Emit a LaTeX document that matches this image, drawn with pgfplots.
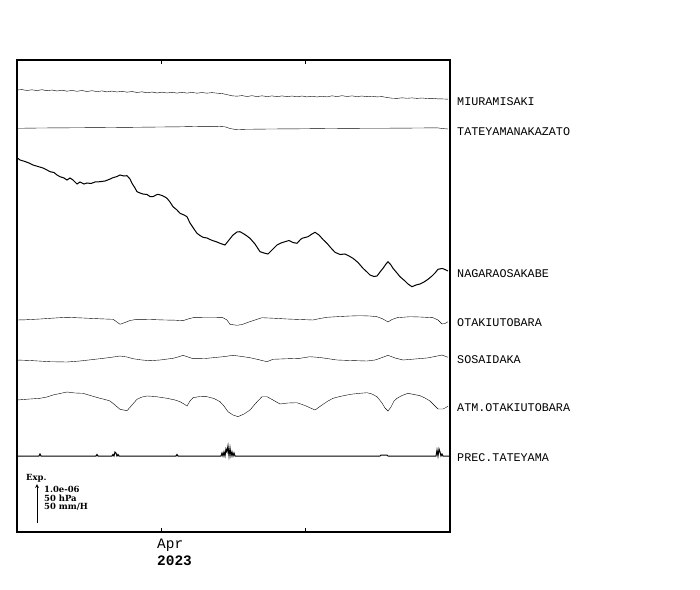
\documentclass[border=0pt]{standalone}
\usepackage{pgfplots}
\pgfplotsset{compat=1.18}
\usepackage{fontspec}
\setmainfont{DejaVu Serif}
\newfontfamily\mono{Liberation Mono}
\begin{document}
\begin{tikzpicture}
\begin{axis}[
  x=1bp, y=1bp, y dir=reverse,
  xmin=17, xmax=450, ymin=60, ymax=532,
  axis line style={line width=1.6bp},
  xtick={161,305}, xticklabels={}, ytick=\empty,
  tick align=inside, xtick pos=both,
  major tick length=4bp, tick style={line width=1bp, black},
  clip=false,
  cycle list={{black, no markers, line width=1bp, line join=round}},
]
\path (axis cs:0,0) rectangle (axis cs:700,590);
% MIURAMISAKI
\addplot coordinates {(17,90)(22,89.6)(27,90.5)(32,89.8)(37,90.6)(42,89.7)(47,90.7)(52,90)(57,91)(62,90.2)(67,91.2)(72,90.4)(77,91.3)(82,90.5)(87,91.5)(92,90.7)(97,91.6)(102,90.9)(107,91.9)(112,91.1)(117,92)(122,91.3)(127,92.2)(132,91.5)(137,92.5)(142,91.8)(147,92.8)(152,92)(157,93)(162,92.2)(167,93)(172,92.3)(177,93.1)(182,92.3)(187,93.1)(192,92.4)(197,93.2)(202,92.5)(207,93.2)(212,92.6)(217,93.2)(222,93.5)(227,94.6)(232,95.8)(237,96.2)(242,95.6)(247,96.5)(252,95.7)(257,96.6)(262,95.8)(267,96.6)(272,95.9)(277,96.7)(282,95.9)(287,96.7)(292,96)(297,96.8)(302,96)(307,96.9)(312,96.2)(317,97)(322,96.2)(327,96.9)(332,95.8)(337,96.6)(342,95.7)(347,96.5)(352,95.9)(357,96.6)(362,96)(367,96.7)(372,96.2)(377,96.9)(382,96.6)(387,97.5)(392,98.2)(397,98.4)(402,97.8)(407,98.3)(412,97.9)(417,98.4)(422,98)(427,98.5)(432,98.3)(437,98.8)(442,98.9)(448,99.2)};
% TATEYAMANAKAZATO
\addplot coordinates {(17,128.3)(40,128)(70,127.8)(100,127.6)(133,127.3)(160,127)(180,126.8)(200,126.4)(215,126.3)(225,126.8)(230,128.5)(236,129.6)(245,129.3)(270,129)(300,128.8)(330,128.5)(360,128.3)(390,128.2)(420,128)(437,127.8)(443,128.6)(448,129)};
% NAGARAOSAKABE
\addplot coordinates {(17,157.7)(20,160)(25,161.5)(29,163)(33,165)(38,166.5)(43,168)(47,170)(50,171.7)(54,172.5)(57,175)(60,176.7)(64,178)(67,180)(70,178)(73,180)(77,184)(80,182)(84,184)(87,183)(91,183.5)(95,182)(100,181.7)(105,181)(109,179.5)(113,177.7)(117,176.5)(120,175)(124,176)(127,175.7)(130,179)(132,183.3)(135,188)(137,191.7)(140,193)(143,194)(147,194.5)(150,196.5)(153,196.7)(156,195)(158,194.3)(162,195.5)(165,197)(167,198.3)(170,202)(173,206.7)(177,210)(180,213.3)(184,215)(187,216.7)(190,223)(194,229)(197,233.3)(200,235.5)(203,237.3)(207,238)(210,239.5)(213,240.7)(217,242)(220,243.3)(225,245)(229,240)(233,235)(237,232)(240,231.7)(244,234)(247,236)(250,238.3)(255,244)(260,251.7)(264,253)(268,254)(272,250)(277,245)(281,243)(285,241.7)(289,240.5)(293,242.5)(297,243.3)(300,240)(302,238.3)(305,237.5)(308,236.7)(312,234)(315,232.3)(319,235)(323,239.5)(327,243.3)(331,248)(335,252.3)(340,254.5)(345,254)(349,256)(353,258.3)(358,262.5)(363,268.3)(367,272)(370,275)(374,276.5)(377,276)(380,272)(383,268.3)(386,264)(388,261.7)(391,265)(393,268.3)(397,273)(400,276.7)(405,281)(408,284)(412,286.7)(416,285)(420,284)(424,282)(428,279.3)(432,276)(435,273)(438,269.3)(441,268.7)(443,268.7)(446,270)(448,271)};
% OTAKIUTOBARA
\addplot coordinates {(17,320)(25,319.8)(40,319)(55,318)(67,317.3)(83,318)(100,318.8)(113,319.3)(117,322)(120,324.3)(125,322.5)(130,320.5)(137,319.3)(150,319.5)(165,320)(175,320.2)(183,320.7)(188,319)(193,317.7)(205,317.5)(215,317.5)(223,317.7)(227,320)(230,324.3)(237,325.3)(242,324.5)(247,322.7)(255,320)(262,317.7)(275,318.3)(287,319)(300,319.5)(313,320)(320,318.5)(327,317.3)(340,316.5)(350,316)(360,315.7)(370,316)(377,316.7)(383,319)(388,322)(392,319.5)(397,317.7)(410,316.7)(420,317)(433,317.7)(438,320)(442,324)(445,323.5)(448,321.7)};
% SOSAIDAKA
\addplot coordinates {(17,360)(30,360.5)(50,361.7)(67,362)(80,361)(100,358.7)(110,357.5)(120,356)(127,357)(133,358.7)(142,360)(150,360.7)(160,360)(173,358.3)(178,357)(183,355.3)(188,357)(193,358.7)(205,358.5)(217,357.3)(225,356.5)(233,355.3)(242,356.5)(250,357.7)(258,359.5)(267,361.7)(273,359.3)(285,358.8)(300,358.3)(310,356.7)(320,357.5)(337,360)(350,360.5)(367,361)(375,360)(380,358.3)(388,355.3)(395,358)(403,360)(415,359)(427,358)(435,356.5)(442,355)(448,357.3)};
% ATM.OTAKIUTOBARA
\addplot coordinates {(17,400)(30,399)(40,398.3)(47,397)(53,395)(60,393.5)(67,392)(75,393)(83,393.3)(92,396)(100,398.3)(105,399.5)(110,401)(115,405)(120,409.3)(127,410.7)(132,405)(137,399.3)(142,397)(147,396)(155,396.5)(167,398.3)(175,400)(180,401.7)(184,404)(187,406)(190,401)(193,397.7)(200,396.5)(207,396.7)(214,398.5)(220,401.7)(224,406)(228,411.7)(233,415)(238,416.7)(244,414)(250,410)(256,403)(262,396.7)(267,396.7)(273,400)(280,404)(288,403)(297,402.7)(305,405.5)(315,410)(322,405)(328,401)(333,398.3)(340,396.5)(347,395)(353,394)(360,393.3)(367,392.7)(372,394)(377,396.7)(382,403)(385,408)(388,411)(391,407)(394,401)(397,398.3)(402,395.5)(408,393.3)(414,394.5)(420,395.7)(425,398)(430,401)(434,405)(438,409)(443,409)(446,407.5)(448,406)};
% PREC.TATEYAMA
\addplot coordinates {(17,456)(39,456)(40,454)(41,456)(96,456)(97,454.5)(98,456)(112,456)(113,454.5)(114,456)(115,452)(116,453)(117,456)(118,454.5)(119,456)(176,456)(177,454.5)(178,456)(221,456)(222,453)(223,456)(224,452)(225,456)(226,449)(227,452)(228,446)(229,456)(230,448)(231,456)(232,452)(233,456)(234,453)(235,456)(380,456)(381,455)(387,455)(388,456)(436,456)(437,450)(438,456)(439,449)(440,452)(441,456)(442,454)(443,456)(450,456)};
% labels
\begin{scope}[every node/.style={anchor=west, inner sep=0pt, font=\mono\fontsize{11.8}{12}\selectfont}]
\node at (axis cs:457,102) {MIURAMISAKI};
\node at (axis cs:457,132) {TATEYAMANAKAZATO};
\node at (axis cs:457,274) {NAGARAOSAKABE};
\node at (axis cs:457,323) {OTAKIUTOBARA};
\node at (axis cs:457,360) {SOSAIDAKA};
\node at (axis cs:457,408) {ATM.OTAKIUTOBARA};
\node at (axis cs:457,458) {PREC.TATEYAMA};
\end{scope}
\node[anchor=west, inner sep=0pt, font=\mono\fontsize{14.5}{15}\selectfont] at (axis cs:157,545) {Apr};
\node[anchor=west, inner sep=0pt, font=\mono\bfseries\fontsize{14.5}{15}\selectfont] at (axis cs:157,561) {2023};
% scale legend
\begin{scope}[every node/.style={anchor=west, inner sep=0pt, font=\bfseries\fontsize{8.5}{9}\selectfont}]
\node at (axis cs:26,478) {Exp.};
\node at (axis cs:44,489) {1.0e-06};
\node at (axis cs:44,498) {50 hPa};
\node at (axis cs:44,507) {50 mm/H};
\end{scope}
\draw[-stealth, line width=0.8bp] (axis cs:37,523) -- (axis cs:37,484);
\end{axis}
\end{tikzpicture}
\end{document}
